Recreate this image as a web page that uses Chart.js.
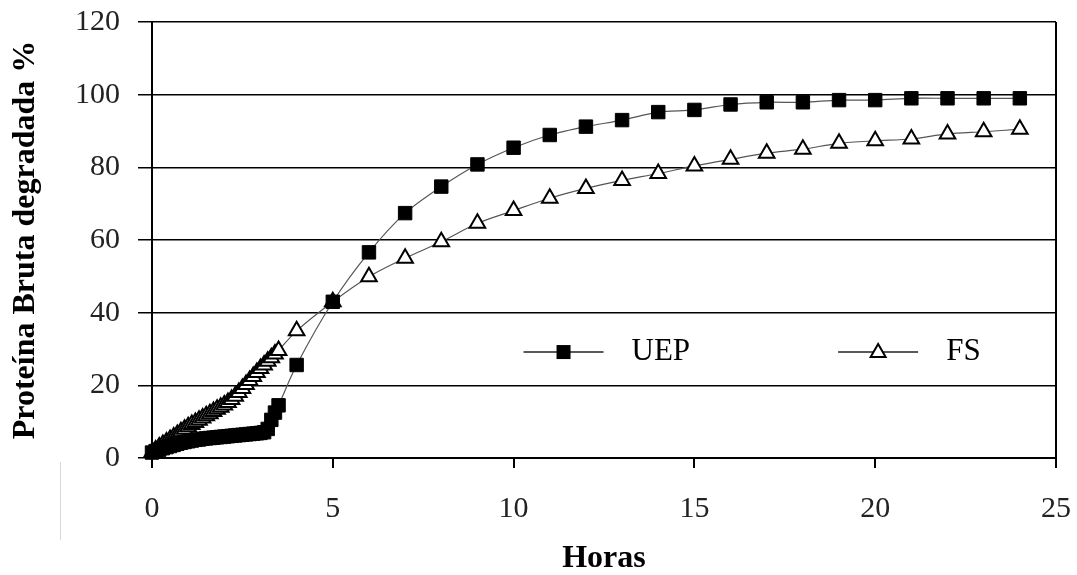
<!DOCTYPE html>
<html>
<head>
<meta charset="utf-8">
<script src="https://cdn.jsdelivr.net/npm/chart.js"></script>
<style>
  html, body { margin: 0; padding: 0; background: #fff; }
  #wrap { width: 1077px; height: 575px; }
</style>
</head>
<body>
<div id="wrap"><canvas id="chart" width="1077" height="575"></canvas></div>
<script>
// Horas (sampled densely for the first 3.5 h, then hourly)
const hours = [
  0, 0.1, 0.2, 0.3, 0.4, 0.5, 0.6, 0.7, 0.8, 0.9,
  1.0, 1.1, 1.2, 1.3, 1.4, 1.5, 1.6, 1.7, 1.8, 1.9,
  2.0, 2.1, 2.2, 2.3, 2.4, 2.5, 2.6, 2.7, 2.8, 2.9,
  3.0, 3.1, 3.2, 3.3, 3.4, 3.5,
  4, 5, 6, 7, 8, 9, 10, 11, 12, 13, 14, 15, 16, 17, 18, 19, 20, 21, 22, 23, 24
]

// Proteína bruta degradada (%) - UEP
const uepValues = [
  1.5, 1.9, 2.3, 2.7, 3.0, 3.3, 3.6, 3.9, 4.2, 4.4,
  4.6, 4.8, 5.0, 5.1, 5.3, 5.4, 5.5, 5.6, 5.7, 5.8,
  5.9, 6.0, 6.1, 6.2, 6.3, 6.4, 6.5, 6.6, 6.7, 6.8,
  6.9, 7.1, 8.0, 10.5, 12.5, 14.5,
  25.6, 43.0, 56.6, 67.4, 74.7, 80.8, 85.4, 88.9, 91.2, 93.0, 95.2, 95.8, 97.3, 97.9, 97.9, 98.5, 98.5, 99.0, 99.0, 99.0, 99.0
]

// Proteína bruta degradada (%) - FS
const fsValues = [
  1.5, 2.2, 3.0, 3.7, 4.4, 5.1, 5.8, 6.5, 7.2, 7.9,
  8.6, 9.2, 9.8, 10.4, 11.0, 11.6, 12.2, 12.8, 13.4, 14.0,
  14.6, 15.3, 16.1, 17.0, 18.0, 19.1, 20.2, 21.3, 22.4, 23.5,
  24.6, 25.6, 26.6, 27.6, 28.6, 29.6,
  35.0, 43.0, 49.9, 55.0, 59.5, 64.6, 68.1, 71.5, 74.2, 76.4, 78.3, 80.4, 82.2, 83.9, 85.0, 86.6, 87.3, 87.8, 89.2, 89.8, 90.5
]

const xTicks = [0, 5, 10, 15, 20, 25]
const yTicks = [0, 20, 40, 60, 80, 100, 120]
const seriesNames = ["UEP", "FS"]

const serif = "'Liberation Serif', 'Times New Roman', serif"

const toPoints = (vals) => vals.map((v, i) => ({ x: hours[i], y: v }))

// legend drawn inside the plot + right border + scan artifact line
const extrasPlugin = {
  id: "extras",
  afterDraw(chart) {
    const ctx = chart.ctx
    const a = chart.chartArea
    ctx.save()
    // right border
    ctx.strokeStyle = "#000"
    ctx.lineWidth = 2
    ctx.beginPath()
    ctx.moveTo(a.right, a.top)
    ctx.lineTo(a.right, a.bottom + 10)
    ctx.stroke()

    // faint vertical scan line
    ctx.strokeStyle = "#d8d8d8"
    ctx.lineWidth = 1
    ctx.beginPath()
    ctx.moveTo(60.5, 462)
    ctx.lineTo(60.5, 540)
    ctx.stroke()

    // legend
    const w = a.right - a.left
    const ly = a.top + (a.bottom - a.top) * 0.757
    const items = [
      { x0: a.left + w * 0.411, name: seriesNames[0], ds: chart.data.datasets[0] },
      { x0: a.left + w * 0.759, name: seriesNames[1], ds: chart.data.datasets[1] }
    ]
    items.forEach((it) => {
      const x1 = it.x0 + 80
      ctx.strokeStyle = "#222"
      ctx.lineWidth = 1.5
      ctx.beginPath()
      ctx.moveTo(it.x0, ly)
      ctx.lineTo(x1, ly)
      ctx.stroke()
      const cx = (it.x0 + x1) / 2
      ctx.lineWidth = 2
      if (it.ds.pointStyle === "rect") {
        ctx.fillStyle = "#000"
        ctx.fillRect(cx - 7, ly - 7, 14, 14)
      } else {
        ctx.fillStyle = "#fff"
        ctx.strokeStyle = "#000"
        ctx.beginPath()
        ctx.moveTo(cx, ly - 8)
        ctx.lineTo(cx + 7.5, ly + 5)
        ctx.lineTo(cx - 7.5, ly + 5)
        ctx.closePath()
        ctx.fill()
        ctx.stroke()
      }
      ctx.fillStyle = "#000"
      ctx.font = "31px " + serif
      ctx.textBaseline = "middle"
      ctx.textAlign = "left"
      ctx.fillText(it.name, x1 + 28, ly)
    })
    ctx.restore()
  }
}

const ctx = document.getElementById("chart").getContext("2d")
const chart = new Chart(ctx, {
  type: "line",
  data: {
    datasets: [
      {
        label: seriesNames[0],
        data: toPoints(uepValues),
        borderColor: "#555",
        borderWidth: 1.2,
        tension: 0.3,
        pointStyle: "rect",
        pointRadius: 9.5,
        pointBackgroundColor: "#000",
        pointBorderColor: "#000",
        pointBorderWidth: 1,
        clip: 12,
      },
      {
        label: seriesNames[1],
        data: toPoints(fsValues),
        borderColor: "#555",
        borderWidth: 1.2,
        tension: 0.3,
        pointStyle: "triangle",
        pointRadius: 9,
        pointBackgroundColor: "#fff",
        pointBorderColor: "#000",
        pointBorderWidth: 2,
        clip: 12,
      },
    ],
  },
  options: {
    responsive: false,
    animation: false,
    layout: { padding: { top: 22, right: 21, left: 0, bottom: 0 } },
    plugins: {
      legend: { display: false },
      tooltip: { enabled: false },
    },
    scales: {
      x: {
        type: "linear",
        min: 0,
        max: 25,
        afterBuildTicks: (scale) => { scale.ticks = xTicks.map((v) => ({ value: v })) },
        afterFit: (scale) => {
          scale.height = 117
          scale.paddingLeft = 0
          scale.paddingRight = 0
        },
        ticks: {
          color: "#222",
          font: { family: serif, size: 30 },
          padding: 23,
          maxRotation: 0,
        },
        grid: { drawOnChartArea: false, drawTicks: true, tickLength: 10, color: "#000", lineWidth: 2 },
        border: { display: true, color: "#000", width: 2 },
        title: {
          display: true,
          text: "Horas",
          color: "#000",
          font: { family: serif, size: 32, weight: "bold", lineHeight: 1 },
          padding: { top: 0, bottom: 0 },
        },
      },
      y: {
        min: 0,
        max: 120,
        afterBuildTicks: (scale) => { scale.ticks = yTicks.map((v) => ({ value: v })) },
        afterFit: (scale) => {
          scale.width = 152
          scale.paddingTop = 0
          scale.paddingBottom = 0
        },
        ticks: {
          color: "#222",
          font: { family: serif, size: 30 },
          padding: 18,
        },
        grid: { color: "#000", lineWidth: 1.5, tickLength: 14 },
        border: { display: true, color: "#000", width: 2 },
        title: {
          display: true,
          text: "Proteína Bruta degradada %",
          color: "#000",
          font: { family: serif, size: 32, weight: "bold", lineHeight: 1 },
          padding: { top: 10, bottom: 0 },
        },
      },
    },
  },
  plugins: [extrasPlugin],
})
</script>
</body>
</html>
